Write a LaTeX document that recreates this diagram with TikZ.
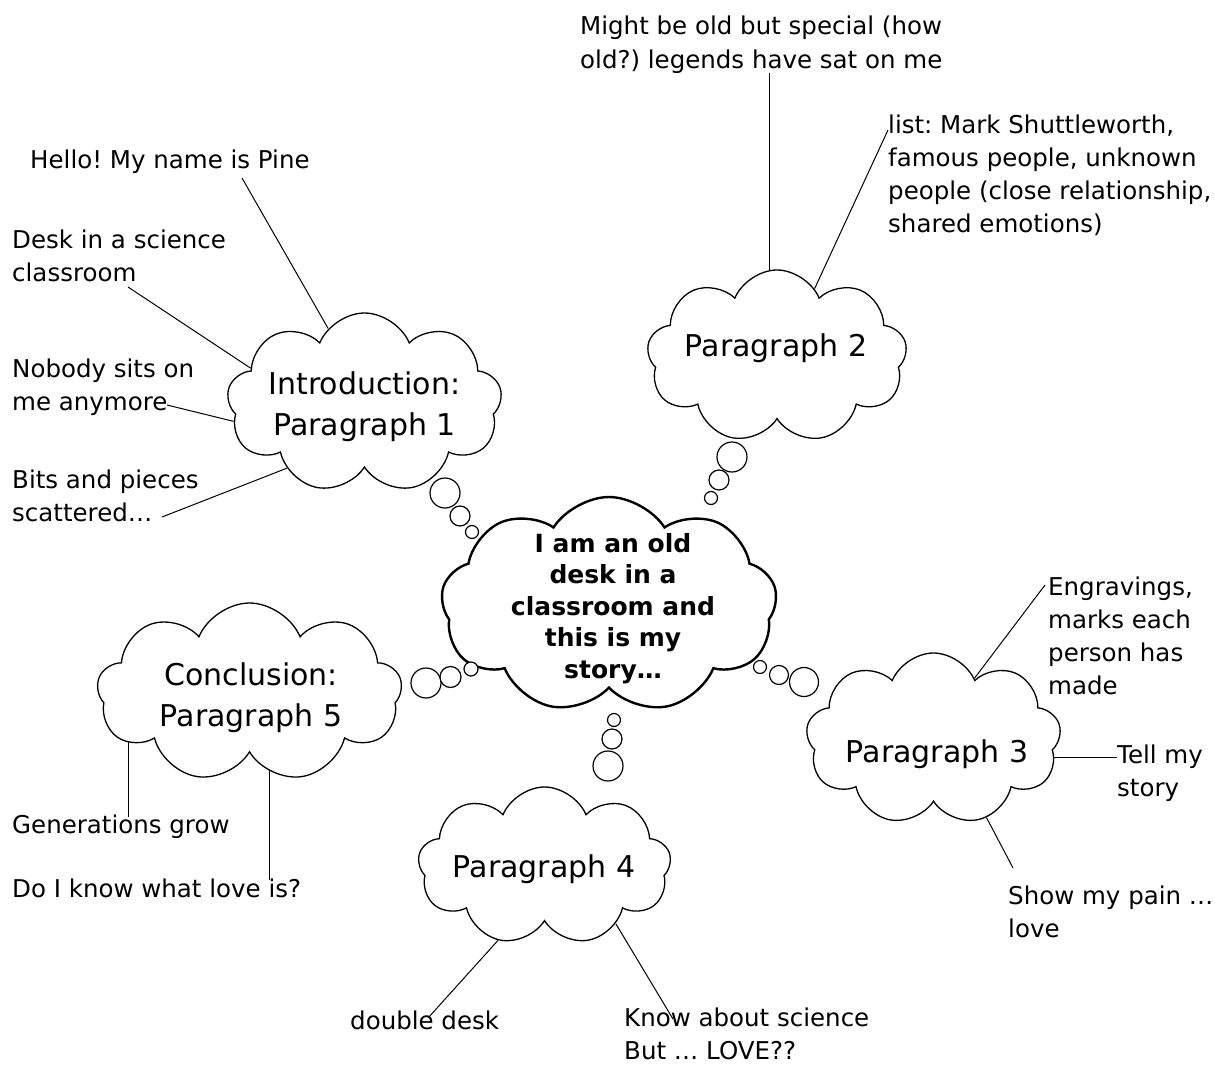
\documentclass[tikz,border=0pt]{standalone}
\usepackage{fontspec}
\setmainfont{DejaVu Sans}
\usetikzlibrary{shapes.symbols,calc,backgrounds}
\newcommand\tabL[1]{\begin{tabular}[t]{@{}l@{}}#1\end{tabular}}
\newcommand\tabC[1]{\begin{tabular}[t]{@{}c@{}}#1\end{tabular}}
\frenchspacing
\begin{document}
\frenchspacing
\begin{tikzpicture}[x=1pt,y=-1pt,
  cloudbox/.style={cloud, cloud puffs=9, cloud puff arc=135, cloud ignores aspect, draw, line width=1.3pt, inner sep=0pt, fill=white},
  mainbox/.style={cloudbox, cloud puffs=9, cloud puff arc=115, line width=2.4pt},
  bub/.style={circle, draw, line width=1.2pt, inner sep=0pt, fill=white},
  note/.style={anchor=base west, inner sep=0pt, font=\fontsize{24.5}{33}\selectfont},
  ctext/.style={anchor=base, inner sep=0pt, font=\fontsize{30}{41.5}\selectfont},
  mtext/.style={anchor=base, inner sep=0pt, font=\fontsize{25}{31.5}\selectfont\bfseries},
  link/.style={line width=1pt}]
\useasboundingbox (0,0) rectangle (1215,1065);

% clouds
\node[cloudbox, minimum width=275pt, minimum height=180pt, shape border rotate=10] (intro) at (364.5,403) {};
\node[mainbox, minimum width=336pt, minimum height=216pt, shape border rotate=-12] (main) at (609,605) {};
\node[cloudbox, minimum width=260pt, minimum height=173pt, shape border rotate=-10] (p2) at (777,356.5) {};
\node[cloudbox, minimum width=255pt, minimum height=172pt, shape border rotate=15] (p3) at (933.5,739) {};
\node[cloudbox, minimum width=305pt, minimum height=179pt, shape border rotate=0] (concl) at (249.5,692.5) {};
\node[cloudbox, minimum width=253pt, minimum height=158pt, shape border rotate=8] (p4) at (544.5,866) {};

% cloud texts
\node[ctext] (introt) at (364.5,394) {\tabC{Introduction:\\Paragraph 1}};
\node[ctext] (p2t) at (776,356) {Paragraph 2};
\node[ctext] (p3t) at (937,762) {Paragraph 3};
\node[ctext] (conclt) at (251,685) {\tabC{Conclusion:\\Paragraph 5}};
\node[ctext] (p4t) at (544,877) {Paragraph 4};
\node[mtext] (maint) at (613,552) {\tabC{I am an old\\desk in a\\classroom and\\this is my\\story…}};

% thought bubbles
\node[bub, minimum size=30pt] (a1) at (445,493) {};
\node[bub, minimum size=20pt] (a2) at (460,516) {};
\node[bub, minimum size=13pt] (a3) at (472,532) {};
\node[bub, minimum size=30pt] (b1) at (732,457) {};
\node[bub, minimum size=20pt] (b2) at (719,480) {};
\node[bub, minimum size=13pt] (b3) at (711,498) {};
\node[bub, minimum size=30pt] (c1) at (426,683) {};
\node[bub, minimum size=21pt] (c2) at (450.5,677) {};
\node[bub, minimum size=14pt] (c3) at (471,669) {};
\node[bub, minimum size=13pt] (d1) at (760,667) {};
\node[bub, minimum size=19pt] (d2) at (779,675) {};
\node[bub, minimum size=29pt] (d3) at (804,682) {};
\node[bub, minimum size=13pt] (e1) at (614,720) {};
\node[bub, minimum size=20pt] (e2) at (612,739) {};
\node[bub, minimum size=30pt] (e3) at (608,766) {};

% notes
\node[note] (hello) at (30,168) {Hello! My name is Pine};
\node[note] (desk) at (12,248) {\tabL{Desk in a science\\classroom}};
\node[note] (nobody) at (12,377) {\tabL{Nobody sits on\\me anymore}};
\node[note] (bits) at (12,488) {\tabL{Bits and pieces\\scattered…}};
\node[note] (might) at (580,35) {\tabL{Might be old but special (how\\old?) legends have sat on me}};
\node[note] (list) at (888,133) {\tabL{list: Mark Shuttleworth,\\famous people, unknown\\people (close relationship,\\shared emotions)}};
\node[note] (engr) at (1048,595) {\tabL{Engravings,\\marks each\\person has\\made}};
\node[note] (tell) at (1117,763) {\tabL{Tell my\\story}};
\node[note] (show) at (1008,904) {\tabL{Show my pain …\\love}};
\node[note] (gen) at (12,833) {Generations grow};
\node[note] (doi) at (12,897) {Do I know what love is?};
\node[note] (dbl) at (350,1029) {double desk};
\node[note, anchor=south west, align=left] (know) at (624,1060) {Know about science\\But … LOVE??};

% connectors (behind the clouds)
\begin{scope}[on background layer]
\fill[white] (0,0) rectangle (1215,1065);
\draw[link] ([shift={(212pt,-10pt)}]hello.base west) -- (intro.116);
\draw[link] ([shift={(116pt,-39pt)}]desk.base west) -- (intro.163);
\draw[link] ([shift={(155pt,-28pt)}]nobody.base west) -- (intro.188);
\draw[link] ([shift={(150pt,-29pt)}]bits.base west) -- (intro.220);
\coordinate (mp) at ([shift={(189pt,-38pt)}]might.base west);
\draw[link] (mp) -- (mp |- p2.center);
\draw[link] ([shift={(0pt,3pt)}]list.base west) -- (p2.61);
\draw[link] ([shift={(-3pt,10pt)}]engr.base west) -- (p3.56);
\coordinate (tp) at ([shift={(0pt,6pt)}]tell.base west);
\draw[link] (tp) -- (tp -| p3.center);
\draw[link] ([shift={(5pt,36pt)}]show.base west) -- (p3.304);
\coordinate (gp) at ([shift={(116pt,16pt)}]gen.base west);
\draw[link] (gp) -- (gp |- concl.center);
\coordinate (dp) at ([shift={(257pt,17pt)}]doi.base west);
\draw[link] (dp) -- (dp |- concl.center);
\draw[link] ([shift={(78pt,11pt)}]dbl.base west) -- (p4.238);
\draw[link] ([shift={(49pt,41pt)}]know.south west) -- (p4.321);
\end{scope}
\end{tikzpicture}
\end{document}
